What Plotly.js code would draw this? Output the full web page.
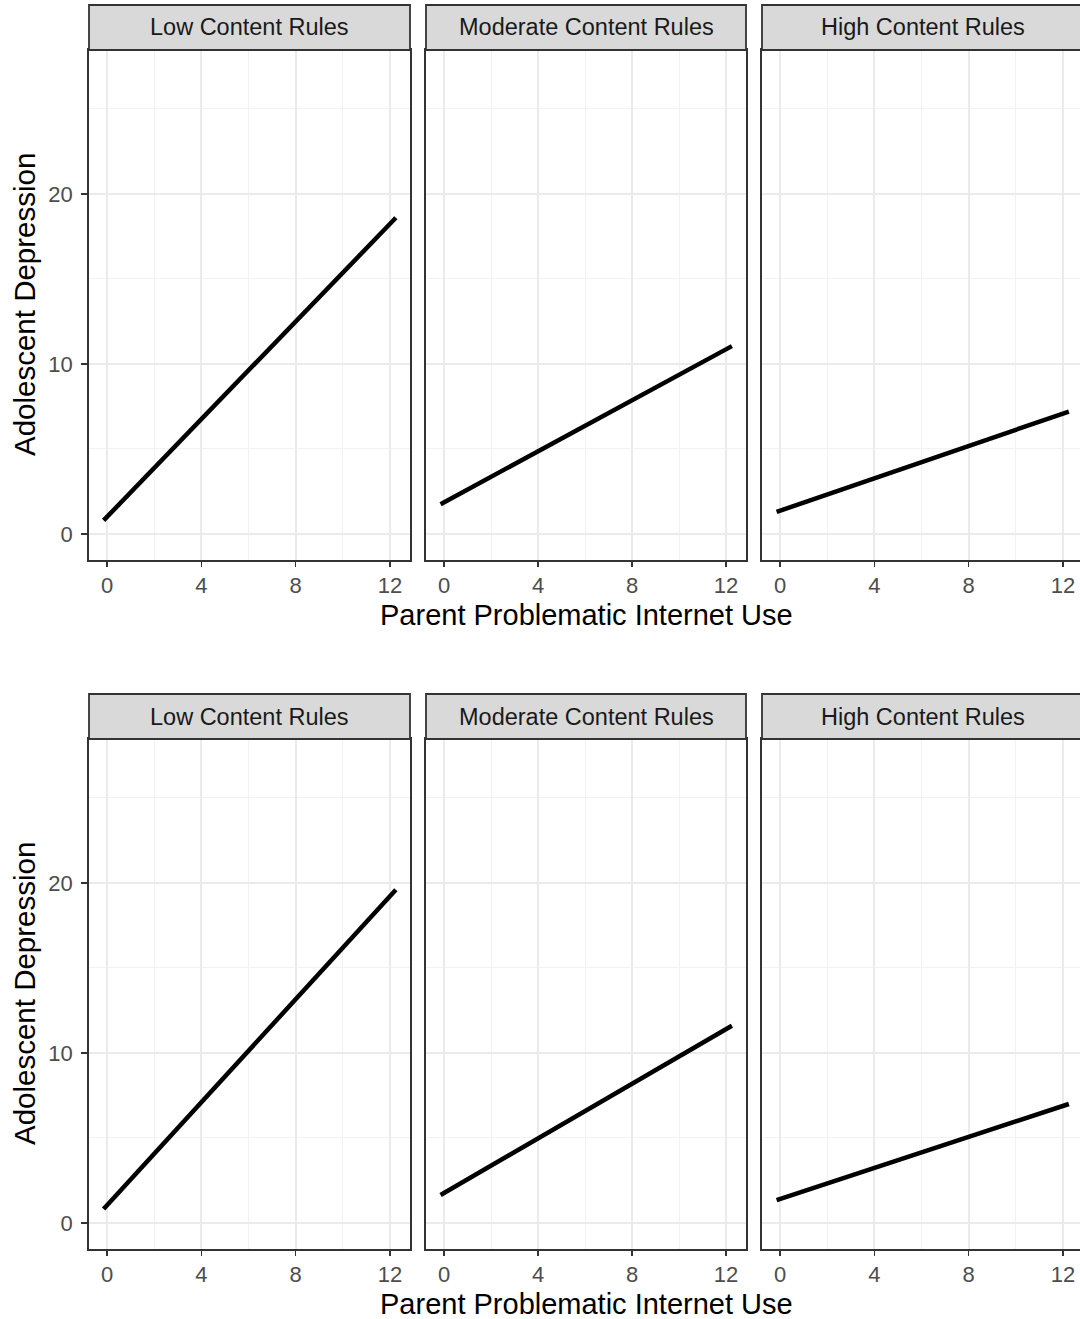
<!DOCTYPE html>
<html>
<head>
<meta charset="utf-8">
<script src="https://cdn.plot.ly/plotly-3.0.1.min.js"></script>
<style>
html,body{margin:0;padding:0;background:#fff;overflow:hidden;}
#chart{width:1086px;height:1319px;}
</style>
</head>
<body>
<div id="chart"></div>
<script>
// ---- data ----
const facets = ["Low Content Rules", "Moderate Content Rules", "High Content Rules"];
const xEnds = [-0.15, 12.25];
// top figure: predicted adolescent depression at low / high parent PIU
const topLow = [0.8, 18.6];
const topModerate = [1.75, 11.05];
const topHigh = [1.3, 7.2];
// bottom figure
const botLow = [0.82, 19.6];
const botModerate = [1.65, 11.6];
const botHigh = [1.35, 7.0];
const xTicks = [0, 4, 8, 12];
const yTicks = [0, 10, 20];
const xTitle = "Parent Problematic Internet Use";
const yTitle = "Adolescent Depression";

// ---- layout geometry (pixels) ----
const W = 1086, H = 1319;
const colPx = [[89, 410], [426, 746], [762, 1083]];
const rowPx = [[50, 560], [739, 1249]];      // panel top, bottom
const stripPx = [[5, 50], [694, 739]];
const fx = p => p / W;
const fy = p => (H - p) / H;

const rows = [[topLow, topModerate, topHigh], [botLow, botModerate, botHigh]];
const traces = [];
const layout = {
  width: W, height: H,
  margin: {l: 0, r: 0, t: 0, b: 0},
  paper_bgcolor: "#ffffff",
  plot_bgcolor: "#ffffff",
  showlegend: false,
  font: {family: "Liberation Sans, Arial, sans-serif", color: "#4d4d4d"},
  shapes: [],
  annotations: []
};

let k = 0;
for (let r = 0; r < 2; r++) {
  for (let c = 0; c < 3; c++) {
    k++;
    const xa = "xaxis" + (k === 1 ? "" : k);
    const ya = "yaxis" + (k === 1 ? "" : k);
    const xr = "x" + (k === 1 ? "" : k);
    const yr = "y" + (k === 1 ? "" : k);
    traces.push({
      type: "scatter", mode: "lines",
      x: xEnds, y: rows[r][c],
      xaxis: xr, yaxis: yr,
      line: {color: "#000000", width: 4.5},
      hoverinfo: "skip"
    });
    layout[xa] = {
      domain: [fx(colPx[c][0]), fx(colPx[c][1])],
      anchor: yr,
      range: [-0.77, 12.85],
      tickvals: xTicks, ticktext: xTicks.map(String),
      ticks: "outside", ticklen: 5, tickwidth: 1.5, tickcolor: "#333333",
      tickfont: {size: 22, color: "#4d4d4d"},
      showline: true, mirror: true, linecolor: "#333333", linewidth: 1.8,
      showgrid: true, gridcolor: "#ebebeb", gridwidth: 2,
      minor: {tickvals: [2, 6, 10], showgrid: true, gridcolor: "#f2f2f2", gridwidth: 1, ticks: ""},
      zeroline: false, fixedrange: true
    };
    layout[ya] = {
      domain: [fy(rowPx[r][1]), fy(rowPx[r][0])],
      anchor: xr,
      range: [-1.53, 28.47],
      tickvals: yTicks, ticktext: yTicks.map(String),
      showticklabels: c === 0,
      ticks: c === 0 ? "outside" : "", ticklen: 6, tickwidth: 1.5, tickcolor: "#333333",
      ticklabelstandoff: 4,
      tickfont: {size: 22, color: "#4d4d4d"},
      showline: true, mirror: true, linecolor: "#333333", linewidth: 1.8,
      showgrid: true, gridcolor: "#ebebeb", gridwidth: 2,
      minor: {tickvals: [5, 15, 25], showgrid: true, gridcolor: "#f2f2f2", gridwidth: 1, ticks: ""},
      zeroline: false, fixedrange: true
    };
    // strip
    layout.shapes.push({
      type: "rect", xref: "paper", yref: "paper",
      x0: fx(colPx[c][0]), x1: fx(colPx[c][1]),
      y0: fy(stripPx[r][1]), y1: fy(stripPx[r][0]),
      fillcolor: "#d9d9d9", line: {color: "#333333", width: 1.8}, layer: "above"
    });
    layout.annotations.push({
      xref: "paper", yref: "paper",
      x: fx((colPx[c][0] + colPx[c][1]) / 2), y: fy((stripPx[r][0] + stripPx[r][1]) / 2),
      text: facets[c], showarrow: false, xanchor: "center", yanchor: "middle",
      font: {size: 23.5, color: "#1a1a1a"}
    });
  }
  // axis titles
  layout.annotations.push({
    xref: "paper", yref: "paper",
    x: fx((colPx[0][0] + colPx[2][1]) / 2), y: fy(rowPx[r][1] + 55),
    text: xTitle, showarrow: false, xanchor: "center", yanchor: "middle",
    font: {size: 29, color: "#000000"}
  });
  layout.annotations.push({
    xref: "paper", yref: "paper",
    x: fx(25), y: fy((rowPx[r][0] + rowPx[r][1]) / 2),
    text: yTitle, showarrow: false, xanchor: "center", yanchor: "middle", textangle: -90,
    font: {size: 29.5, color: "#000000"}
  });
}

Plotly.newPlot("chart", traces, layout, {staticPlot: true, displayModeBar: false});
</script>
</body>
</html>
